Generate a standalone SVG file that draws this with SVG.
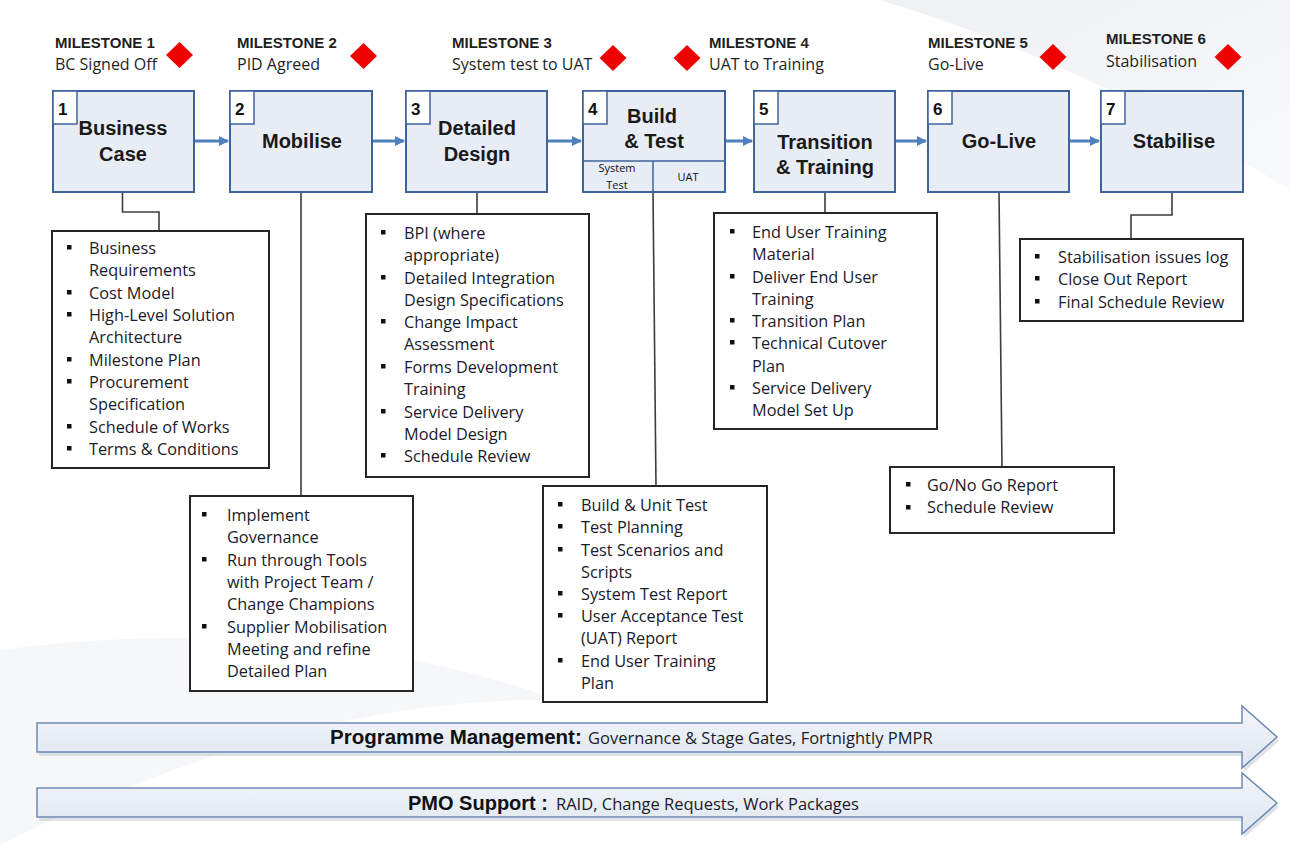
<svg xmlns="http://www.w3.org/2000/svg" width="1290" height="845" viewBox="0 0 1290 845">
<defs>
<style>
.ms{font-family:"Liberation Sans",Arial,sans-serif;font-weight:bold;font-size:15px;fill:#1f1f1f}
.mss{font-family:"Open Sans","Liberation Sans",sans-serif;font-size:16px;fill:#1f1f1f}
.box{fill:#e8edf5;stroke:#3f649c;stroke-width:2}
.nbox{fill:#ffffff;stroke:#3f649c;stroke-width:1.5}
.num{font-family:"Liberation Sans",Arial,sans-serif;font-weight:bold;font-size:17px;fill:#111}
.ttl{font-family:"Liberation Sans",Arial,sans-serif;font-weight:bold;font-size:20px;fill:#1a1a1a;text-anchor:middle}
.sm{font-family:"Open Sans","Liberation Sans",sans-serif;font-size:11px;fill:#111;text-anchor:middle}
.lst{fill:#ffffff;stroke:#262626;stroke-width:2}
.lt{font-family:"Open Sans","Liberation Sans",sans-serif;font-size:16.3px;fill:#1a1a2a}
.bul{fill:#111}
.dia{fill:#ee0000}
.flow{stroke:#4f7fbd;stroke-width:3;fill:none;marker-end:url(#ah)}
.con{stroke:#3c3c3c;stroke-width:1.6;fill:none}
.ban{fill:url(#bg);stroke:#6c8ab5;stroke-width:1.5}
.banb{font-family:"Liberation Sans",Arial,sans-serif;font-weight:bold;font-size:20.5px;fill:#111}
.bant{font-family:"Open Sans","Liberation Sans",sans-serif;font-size:16.5px;fill:#1a1a2a}
</style>
<marker id="ah" viewBox="0 0 10 10" refX="9" refY="5" markerWidth="3.4" markerHeight="3.4" orient="auto" markerUnits="strokeWidth">
<path d="M0,0 L10,5 L0,10 Z" fill="#4f7fbd"/>
</marker>
<linearGradient id="bg" x1="0" y1="0" x2="0" y2="1">
<stop offset="0" stop-color="#f3f6fa"/>
<stop offset="1" stop-color="#dfe6f0"/>
</linearGradient>
<linearGradient id="sw" x1="0" y1="0" x2="1" y2="1">
<stop offset="0" stop-color="#eef0f3"/>
<stop offset="1" stop-color="#f8f9fa"/>
</linearGradient>
</defs>
<rect width="1290" height="845" fill="#ffffff"/>
<g id="background">
<path d="M880,0 Q1080,60 1290,190 L1290,0 Z" fill="url(#sw)"/>
<path d="M0,650 Q300,610 560,700 Q300,695 0,845 Z" fill="#f6f7f9"/>
</g>
<g id="milestones">
<g id="m1"><text class="ms" x="55" y="48">MILESTONE 1</text><text class="mss" x="55" y="70">BC Signed Off</text><path class="dia" d="M179.5,42 L193,55 L179.5,68 L166,55 Z"/></g>
<g id="m2"><text class="ms" x="237" y="48">MILESTONE 2</text><text class="mss" x="237" y="70">PID Agreed</text><path class="dia" d="M363.5,43 L377,56 L363.5,69 L350,56 Z"/></g>
<g id="m3"><text class="ms" x="452" y="48">MILESTONE 3</text><text class="mss" x="452" y="70">System test to UAT</text><path class="dia" d="M613,45 L626.5,58 L613,71 L599.5,58 Z"/></g>
<g id="m4"><text class="ms" x="709" y="48">MILESTONE 4</text><text class="mss" x="709" y="70">UAT to Training</text><path class="dia" d="M687,45 L700.5,58 L687,71 L673.5,58 Z"/></g>
<g id="m5"><text class="ms" x="928" y="48">MILESTONE 5</text><text class="mss" x="928" y="70">Go-Live</text><path class="dia" d="M1053,44 L1066.5,57 L1053,70 L1039.5,57 Z"/></g>
<g id="m6"><text class="ms" x="1106" y="44">MILESTONE 6</text><text class="mss" x="1106" y="67">Stabilisation</text><path class="dia" d="M1228,44 L1241.5,57 L1228,70 L1214.5,57 Z"/></g>
</g>
<g id="connectors">
<path class="flow" d="M194,141 H228"/>
<path class="flow" d="M372,141 H404"/>
<path class="flow" d="M547,141 H581"/>
<path class="flow" d="M725,141 H752"/>
<path class="flow" d="M895,141 H926"/>
<path class="flow" d="M1069,141 H1099"/>
<path class="con" d="M122.5,192 V212 H159 V231"/>
<path class="con" d="M301,192 V496"/>
<path class="con" d="M477,192 V214"/>
<path class="con" d="M653,192 L656,486"/>
<path class="con" d="M825,192 V213"/>
<path class="con" d="M999,192 L1002,467"/>
<path class="con" d="M1172,192 V215 H1131 V239"/>
</g>
<g id="s1"><rect class="box" x="53" y="91" width="141" height="101"/><rect class="nbox" x="53" y="91" width="24" height="33"/><text class="num" x="58" y="115">1</text><text class="ttl" x="123" y="135">Business</text><text class="ttl" x="123" y="161">Case</text></g>
<g id="s2"><rect class="box" x="230" y="91" width="142" height="101"/><rect class="nbox" x="230" y="91" width="24" height="33"/><text class="num" x="235" y="115">2</text><text class="ttl" x="302" y="148">Mobilise</text></g>
<g id="s3"><rect class="box" x="406" y="91" width="141" height="101"/><rect class="nbox" x="406" y="91" width="24" height="33"/><text class="num" x="411" y="115">3</text><text class="ttl" x="477" y="135">Detailed</text><text class="ttl" x="477" y="161">Design</text></g>
<g id="s4"><rect class="box" x="583" y="91" width="142" height="101"/><rect class="nbox" x="583" y="91" width="24" height="33"/><text class="num" x="588" y="115">4</text><text class="ttl" x="652" y="123">Build</text><text class="ttl" x="654" y="148">&amp; Test</text><path d="M583,161 H725 M653,161 V192" stroke="#3f649c" stroke-width="1.5" fill="none"/><text class="sm" x="617" y="172">System</text><text class="sm" x="617" y="189">Test</text><text class="sm" x="688" y="181">UAT</text></g>
<g id="s5"><rect class="box" x="754" y="91" width="141" height="101"/><rect class="nbox" x="754" y="91" width="24" height="33"/><text class="num" x="759" y="115">5</text><text class="ttl" x="825" y="149">Transition</text><text class="ttl" x="825" y="174">&amp; Training</text></g>
<g id="s6"><rect class="box" x="928" y="91" width="141" height="101"/><rect class="nbox" x="928" y="91" width="24" height="33"/><text class="num" x="933" y="115">6</text><text class="ttl" x="999" y="148">Go-Live</text></g>
<g id="s7"><rect class="box" x="1101" y="91" width="142" height="101"/><rect class="nbox" x="1101" y="91" width="24" height="33"/><text class="num" x="1106" y="115">7</text><text class="ttl" x="1174" y="148">Stabilise</text></g>
<g id="l1"><rect class="lst" x="52" y="231" width="217" height="237"/>
<rect class="bul" x="67" y="245" width="4.5" height="4.5"/><rect class="bul" x="67" y="290" width="4.5" height="4.5"/><rect class="bul" x="67" y="312" width="4.5" height="4.5"/><rect class="bul" x="67" y="357" width="4.5" height="4.5"/><rect class="bul" x="67" y="379" width="4.5" height="4.5"/><rect class="bul" x="67" y="424" width="4.5" height="4.5"/><rect class="bul" x="67" y="446" width="4.5" height="4.5"/>
<text class="lt" x="89" y="254">Business</text><text class="lt" x="89" y="276">Requirements</text><text class="lt" x="89" y="299">Cost Model</text><text class="lt" x="89" y="321">High-Level Solution</text><text class="lt" x="89" y="343">Architecture</text><text class="lt" x="89" y="366">Milestone Plan</text><text class="lt" x="89" y="388">Procurement</text><text class="lt" x="89" y="410">Specification</text><text class="lt" x="89" y="433">Schedule of Works</text><text class="lt" x="89" y="455">Terms &amp; Conditions</text></g>
<g id="l2"><rect class="lst" x="190" y="496" width="223" height="195"/>
<rect class="bul" x="202" y="512" width="4.5" height="4.5"/><rect class="bul" x="202" y="557" width="4.5" height="4.5"/><rect class="bul" x="202" y="624" width="4.5" height="4.5"/>
<text class="lt" x="227" y="521">Implement</text><text class="lt" x="227" y="543">Governance</text><text class="lt" x="227" y="566">Run through Tools</text><text class="lt" x="227" y="588">with Project Team /</text><text class="lt" x="227" y="610">Change Champions</text><text class="lt" x="227" y="633">Supplier Mobilisation</text><text class="lt" x="227" y="655">Meeting and refine</text><text class="lt" x="227" y="677">Detailed Plan</text></g>
<g id="l3"><rect class="lst" x="366" y="214" width="223" height="263"/>
<rect class="bul" x="381" y="230" width="4.5" height="4.5"/><rect class="bul" x="381" y="275" width="4.5" height="4.5"/><rect class="bul" x="381" y="319" width="4.5" height="4.5"/><rect class="bul" x="381" y="364" width="4.5" height="4.5"/><rect class="bul" x="381" y="409" width="4.5" height="4.5"/><rect class="bul" x="381" y="453" width="4.5" height="4.5"/>
<text class="lt" x="404" y="239">BPI (where</text><text class="lt" x="404" y="261">appropriate)</text><text class="lt" x="404" y="284">Detailed Integration</text><text class="lt" x="404" y="306">Design Specifications</text><text class="lt" x="404" y="328">Change Impact</text><text class="lt" x="404" y="350">Assessment</text><text class="lt" x="404" y="373">Forms Development</text><text class="lt" x="404" y="395">Training</text><text class="lt" x="404" y="418">Service Delivery</text><text class="lt" x="404" y="440">Model Design</text><text class="lt" x="404" y="462">Schedule Review</text></g>
<g id="l4"><rect class="lst" x="543" y="486" width="224" height="216"/>
<rect class="bul" x="558" y="502" width="4.5" height="4.5"/><rect class="bul" x="558" y="524" width="4.5" height="4.5"/><rect class="bul" x="558" y="547" width="4.5" height="4.5"/><rect class="bul" x="558" y="591" width="4.5" height="4.5"/><rect class="bul" x="558" y="613" width="4.5" height="4.5"/><rect class="bul" x="558" y="658" width="4.5" height="4.5"/>
<text class="lt" x="581" y="511">Build &amp; Unit Test</text><text class="lt" x="581" y="533">Test Planning</text><text class="lt" x="581" y="556">Test Scenarios and</text><text class="lt" x="581" y="578">Scripts</text><text class="lt" x="581" y="600">System Test Report</text><text class="lt" x="581" y="622">User Acceptance Test</text><text class="lt" x="581" y="644">(UAT) Report</text><text class="lt" x="581" y="667">End  User Training</text><text class="lt" x="581" y="689">Plan</text></g>
<g id="l5"><rect class="lst" x="714" y="213" width="223" height="216"/>
<rect class="bul" x="730" y="229" width="4.5" height="4.5"/><rect class="bul" x="730" y="274" width="4.5" height="4.5"/><rect class="bul" x="730" y="318" width="4.5" height="4.5"/><rect class="bul" x="730" y="340" width="4.5" height="4.5"/><rect class="bul" x="730" y="385" width="4.5" height="4.5"/>
<text class="lt" x="752" y="238">End User Training</text><text class="lt" x="752" y="260">Material</text><text class="lt" x="752" y="283">Deliver End User</text><text class="lt" x="752" y="305">Training</text><text class="lt" x="752" y="327">Transition Plan</text><text class="lt" x="752" y="349">Technical Cutover</text><text class="lt" x="752" y="372">Plan</text><text class="lt" x="752" y="394">Service Delivery</text><text class="lt" x="752" y="416">Model Set Up</text></g>
<g id="l6"><rect class="lst" x="890" y="467" width="224" height="66"/>
<rect class="bul" x="906" y="482" width="4.5" height="4.5"/><rect class="bul" x="906" y="505" width="4.5" height="4.5"/>
<text class="lt" x="927" y="491">Go/No Go Report</text><text class="lt" x="927" y="513">Schedule Review</text></g>
<g id="l7"><rect class="lst" x="1020" y="239" width="223" height="82"/>
<rect class="bul" x="1035" y="254" width="4.5" height="4.5"/><rect class="bul" x="1035" y="276" width="4.5" height="4.5"/><rect class="bul" x="1035" y="299" width="4.5" height="4.5"/>
<text class="lt" x="1058" y="263">Stabilisation issues log</text><text class="lt" x="1058" y="285">Close Out Report</text><text class="lt" x="1058" y="308">Final Schedule Review</text></g>
<g id="programme-management">
<polygon points="39,727 1244,727 1244,710 1279,741 1244,772 1244,756 39,756" fill="#c9ced6" opacity="0.6"/>
<polygon class="ban" points="37,723 1242,723 1242,706 1277,737 1242,768 1242,752 37,752"/>
<text class="banb" x="330" y="744">Programme Management:</text><text class="bant" x="588" y="744">Governance &amp; Stage Gates, Fortnightly PMPR</text>
</g>
<g id="pmo-support">
<polygon points="39,792 1244,792 1244,777 1279,807 1244,838 1244,821 39,821" fill="#c9ced6" opacity="0.6"/>
<polygon class="ban" points="37,788 1242,788 1242,773 1277,803 1242,834 1242,817 37,817"/>
<text class="banb" x="408" y="810" style="font-size:20px">PMO Support :</text><text class="bant" x="556" y="810">RAID, Change Requests, Work Packages</text>
</g>
</svg>
